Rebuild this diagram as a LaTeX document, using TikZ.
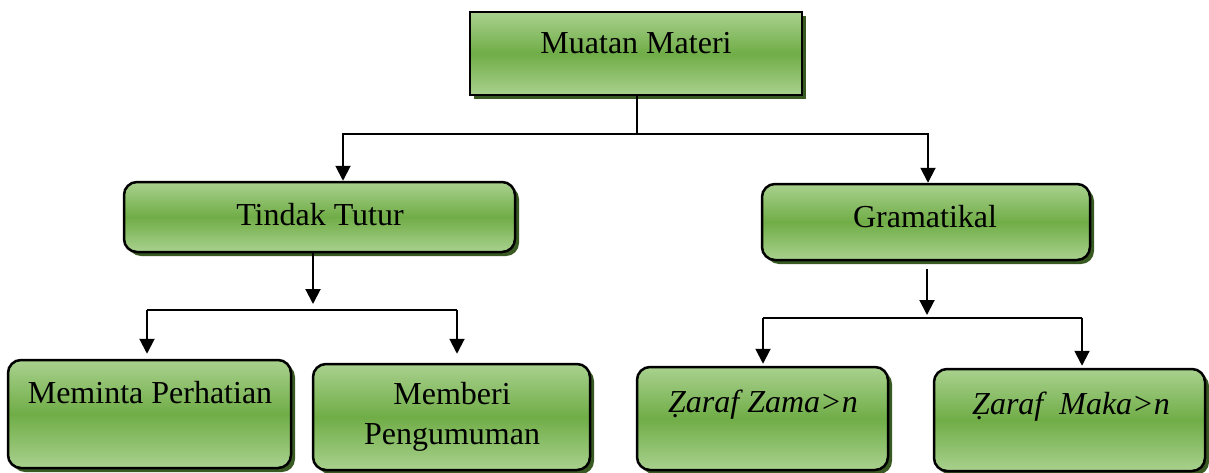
\documentclass[tikz,border=0pt]{standalone}
\usepackage{fontspec}
\setmainfont{Liberation Serif}
\usetikzlibrary{arrows.meta,shadows,calc}
\definecolor{lgreen}{HTML}{A9D18E}
\definecolor{mgreen}{HTML}{70AD47}
\definecolor{sgreen}{HTML}{3A5A24}
\begin{document}
\begin{tikzpicture}[x=1pt,y=-1pt,
  box/.style={draw=black,line width=2.5pt,top color=lgreen,bottom color=lgreen,middle color=mgreen,
    drop shadow={shadow xshift=4pt,shadow yshift=-4pt,fill=sgreen,opacity=1},inner sep=0pt},
  rbox/.style={box,rounded corners=13pt},
  lbl/.style={font=\fontsize{32}{40}\selectfont,inner sep=0pt,align=center},
  conn/.style={line width=2pt},
  arr/.style={conn,-{Triangle[width=15pt,length=15pt]}}]
\useasboundingbox (0,0) rectangle (1209,472);
% boxes
\node[box,minimum width=332pt,minimum height=83pt] (m) at (636,53.5) {};
\node[lbl] (mt) at (636,43) {Muatan Materi};
\node[rbox,minimum width=391pt,minimum height=70pt] (tt) at (319.5,217) {};
\node[lbl] (ttt) at (320,215) {Tindak Tutur};
\node[rbox,minimum width=328pt,minimum height=76pt] (g) at (926,222) {};
\node[lbl] (gt) at (925,217) {Gramatikal};
\node[rbox,minimum width=283pt,minimum height=108pt] (mp) at (149.5,414) {};
\node[lbl] (mpt) at (150,393) {Meminta Perhatian};
\node[rbox,minimum width=277pt,minimum height=106pt] (mb) at (451.5,417) {};
\node[lbl] (mbt) at (452,417) {Memberi\\Pengumuman};
\node[rbox,minimum width=251pt,minimum height=103pt] (zz) at (762.5,418.5) {};
\node[lbl] (zzt) at (763,405) {\itshape Ẓaraf Zama>n};
\node[rbox,minimum width=271pt,minimum height=102pt] (zm) at (1069.5,420) {};
\node[lbl] (zmt) at (1071,407) {\itshape Ẓaraf\ \ Maka>n};
% connectors top level
\coordinate (j1) at (637,134);
\coordinate (a1) at (343,134);
\coordinate (b1) at (928,134);
\draw[conn] (m.south -| j1) -- (j1);
\draw[arr] (j1) -| (a1 |- tt.north);
\draw[arr] (j1) -| (b1 |- g.north);
% left branch
\coordinate (j2) at (313,310);
\coordinate (a2) at (147,310);
\coordinate (b2) at (457,310);
\draw[arr] (tt.south -| j2) -- ([yshift=6pt]j2);
\draw[conn] (a2) -- (b2);
\draw[arr,shorten >=5pt] (a2) -- (a2 |- mp.north);
\draw[arr,shorten >=9pt] (b2) -- (b2 |- mb.north);
% right branch
\coordinate (j3) at (927,318);
\coordinate (a3) at (763,318);
\coordinate (b3) at (1082,318);
\draw[arr,shorten <=8pt] (g.south -| j3) -- ([yshift=3pt]j3);
\draw[conn] (a3) -- (b3);
\draw[arr,shorten >=2pt] (a3) -- (a3 |- zz.north);
\draw[arr,shorten >=2pt] (b3) -- (b3 |- zm.north);
\end{tikzpicture}
\end{document}
